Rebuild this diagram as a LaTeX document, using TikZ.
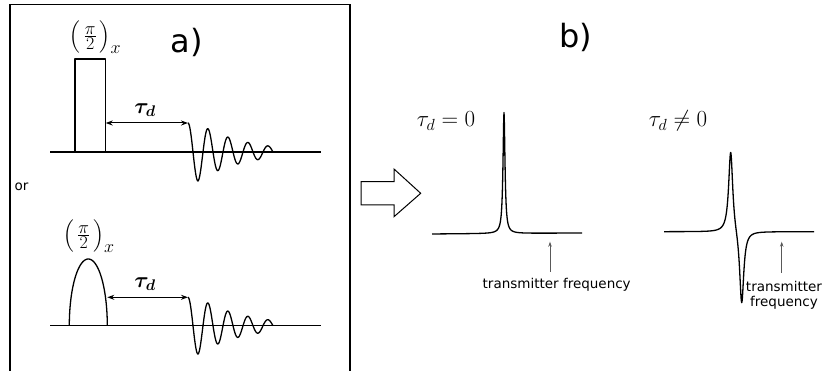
\RequirePackage{fix-cm}
\documentclass[tikz,border=0pt]{standalone}
\usepackage{amsmath,amssymb}
\usepackage{bm}
\usepackage{fontspec}
\setmainfont{DejaVu Sans}
\usepackage{tikz}
\usetikzlibrary{positioning, arrows.meta, calc}

\newcommand{\halbpuls}{$\Bigl(\,\frac{\textstyle\pi}{\textstyle 2}\,\Bigr)_{\textstyle x}$}

\tikzset{
    trace/.style={line width=1.3pt, line join=round},
    delay/.style={{Stealth[length=7pt,width=5pt]}-{Stealth[length=7pt,width=5pt]}, line width=1pt},
    marker/.style={-{Stealth[length=5pt,width=3.5pt]}, gray!70!black, line width=0.8pt},
    bigsans/.style={font=\fontsize{32}{36}\selectfont, anchor=base},
    smallsans/.style={font=\fontsize{13.5}{15}\selectfont},
    mathlbl/.style={font=\fontsize{22}{24}\selectfont},
    pulslbl/.style={font=\fontsize{18}{20}\selectfont},
}

\begin{document}
\begin{tikzpicture}[x=1pt, y=-1pt]
        \useasboundingbox (0,0) rectangle (825,371);

        % Rahmen um Teil a) (unten offen)
        \draw[line width=1.2pt] (10,371) -- (10,4.7) -- (350,4.7) -- (350,371);
        \node[bigsans] (lbla) at (186.5,53) {a)};
        \node[bigsans] (lblb) at (576,48) {b)};
        \node[smallsans, anchor=base west] (lblor) at (11,190.7) {or};

        % Obere Sequenz: Rechteckpuls, Wartezeit, FID
        \draw[trace] (50,152) -- (320.7,152);
        \draw[trace] (75,152) rectangle (105.7,59);
        \node[pulslbl] (pulsA) at (95.5,37) {\halbpuls};
        \coordinate (pulsAend) at (105.7,123);
        \coordinate (fidA) at (188,123);
        \draw[delay] (pulsAend) -- (fidA);
        \node[mathlbl] (tauA) at (145,110) {$\bm{\tau_d}$};
        \draw[trace] (fidA)
            plot[domain=188:273, samples=250] (\x, {152 - 29*exp(-max(\x-198,0)/45)*cos(18*(\x-188))});

        % Untere Sequenz: geformter Puls
        \draw[trace] (50,325.7) -- (320.7,325.7);
        \draw[trace] plot[domain=180:360, samples=80] ({88.3+19*cos(\x)}, {325.7+66.7*sin(\x)});
        \node[pulslbl] (pulsB) at (89,236) {\halbpuls};
        \coordinate (pulsBend) at (107.3,297.3);
        \coordinate (fidB) at (188,297.3);
        \draw[delay] (pulsBend) -- (fidB);
        \node[mathlbl] (tauB) at (145,284) {$\bm{\tau_d}$};
        \draw[trace] (fidB)
            plot[domain=188:273, samples=250] (\x, {325.7 - 28.4*exp(-max(\x-198,0)/45)*cos(18*(\x-188))});

        % Blockpfeil
        \draw[line width=1pt, line join=miter] (361,181.7) -- (394,181.7) -- (394,169) -- (420.7,193.3)
            -- (394,216.7) -- (394,205) -- (361,205) -- cycle;

        % Spektrum fuer tau_d = 0
        \node[font=\fontsize{23}{25}\selectfont] (specA) at (446,121) {$\tau_d = 0$};
        \draw[trace] plot[domain=432:582, samples=601] (\x, {234 - 0.0067*(\x-432) - 121/(1+((\x-504)/1.2)^2)});
        \node[smallsans, anchor=base] (freqA) at (556.7,288.3) {transmitter frequency};
        \coordinate (freqAfoot) at (550,271.7);
        \coordinate (freqAtip) at (550,241.7);
        \draw[marker] (freqAfoot) -- (freqAtip);

        % Spektrum fuer tau_d != 0
        \node[font=\fontsize{23}{25}\selectfont] (specB) at (678,121) {$\tau_d \neq 0$};
        \draw[trace] plot[domain=664:814, samples=601] (\x, {231.7 - 83/(1+((\x-730.7)/2.5)^2) + 75/(1+((\x-741.7)/2.5)^2)});
        \node[smallsans, align=center] (freqB) at (784,295) {transmitter\\frequency};
        \coordinate (freqBfoot) at (781.7,273);
        \coordinate (freqBtip) at (781.7,241.7);
        \draw[marker] (freqBfoot) -- (freqBtip);
    \end{tikzpicture}
\end{document}
